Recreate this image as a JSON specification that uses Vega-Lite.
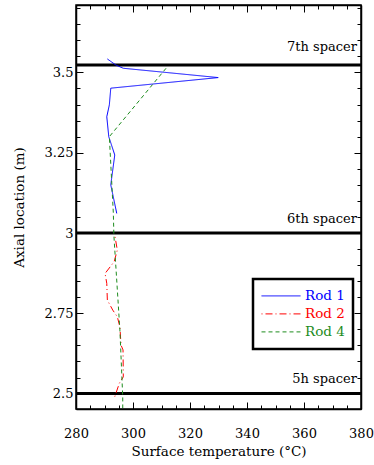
{
  "$schema": "https://vega.github.io/schema/vega-lite/v6.json",
  "width": 285,
  "height": 404,
  "autosize": "none",
  "padding": {"left": 76, "top": 5, "right": 13, "bottom": 56},
  "config": {
    "font": "DejaVu Serif",
    "view": {"stroke": "black", "strokeWidth": 1.5},
    "axis": {
      "domainColor": "black", "domainWidth": 1.5, "tickColor": "black", "tickWidth": 1,
      "labelColor": "black", "titleColor": "black", "grid": false,
      "labelFont": "DejaVu Serif", "titleFont": "DejaVu Serif",
      "labelFontSize": 13, "titleFontSize": 13.5, "titleFontWeight": "normal",
      "labelFlush": false, "labelOverlap": false
    }
  },
  "datasets": {
    "lines": [
      {"rod": "Rod 1", "i": 1, "t": 291.0, "z": 3.542},
      {"rod": "Rod 1", "i": 2, "t": 294.0, "z": 3.523},
      {"rod": "Rod 1", "i": 3, "t": 296.6, "z": 3.513},
      {"rod": "Rod 1", "i": 4, "t": 329.9, "z": 3.484},
      {"rod": "Rod 1", "i": 5, "t": 292.2, "z": 3.451},
      {"rod": "Rod 1", "i": 6, "t": 291.7, "z": 3.399},
      {"rod": "Rod 1", "i": 7, "t": 290.8, "z": 3.362},
      {"rod": "Rod 1", "i": 8, "t": 291.5, "z": 3.300},
      {"rod": "Rod 1", "i": 9, "t": 293.6, "z": 3.243},
      {"rod": "Rod 1", "i": 10, "t": 292.2, "z": 3.150},
      {"rod": "Rod 1", "i": 11, "t": 294.3, "z": 3.061},
      {"rod": "Rod 2", "i": 1, "t": 293.7, "z": 2.988},
      {"rod": "Rod 2", "i": 2, "t": 294.5, "z": 2.947},
      {"rod": "Rod 2", "i": 3, "t": 293.4, "z": 2.911},
      {"rod": "Rod 2", "i": 4, "t": 290.2, "z": 2.874},
      {"rod": "Rod 2", "i": 5, "t": 290.8, "z": 2.843},
      {"rod": "Rod 2", "i": 6, "t": 291.0, "z": 2.791},
      {"rod": "Rod 2", "i": 7, "t": 292.9, "z": 2.760},
      {"rod": "Rod 2", "i": 8, "t": 294.5, "z": 2.739},
      {"rod": "Rod 2", "i": 9, "t": 295.4, "z": 2.708},
      {"rod": "Rod 2", "i": 10, "t": 295.8, "z": 2.651},
      {"rod": "Rod 2", "i": 11, "t": 296.5, "z": 2.636},
      {"rod": "Rod 2", "i": 12, "t": 296.6, "z": 2.552},
      {"rod": "Rod 2", "i": 13, "t": 295.2, "z": 2.532},
      {"rod": "Rod 2", "i": 14, "t": 293.4, "z": 2.485},
      {"rod": "Rod 4", "i": 1, "t": 311.6, "z": 3.513},
      {"rod": "Rod 4", "i": 2, "t": 291.7, "z": 3.300},
      {"rod": "Rod 4", "i": 3, "t": 293.1, "z": 3.062},
      {"rod": "Rod 4", "i": 4, "t": 293.3, "z": 2.991},
      {"rod": "Rod 4", "i": 5, "t": 295.4, "z": 2.698},
      {"rod": "Rod 4", "i": 6, "t": 296.4, "z": 2.490},
      {"rod": "Rod 4", "i": 7, "t": 296.4, "z": 2.455}
    ],
    "spacers": [{"z": 3.523}, {"z": 3.0}, {"z": 2.5}],
    "labels": [
      {"name": "7th spacer", "t": 378.6, "z": 3.579},
      {"name": "6th spacer", "t": 378.6, "z": 3.045},
      {"name": "5h spacer", "t": 378.6, "z": 2.544}
    ]
  },
  "layer": [
    {
      "data": {"name": "spacers"},
      "mark": {"type": "rule", "strokeWidth": 3, "color": "black"},
      "encoding": {
        "y": {"field": "z", "type": "quantitative", "scale": {"domain": [2.452, 3.71], "nice": false, "zero": false}, "axis": null}
      }
    },
    {
      "data": {"name": "labels"},
      "mark": {"type": "text", "align": "right", "baseline": "middle", "fontSize": 13, "font": "DejaVu Serif", "color": "black"},
      "encoding": {
        "x": {"field": "t", "type": "quantitative", "scale": {"domain": [280, 380], "nice": false, "zero": false}, "axis": null},
        "y": {"field": "z", "type": "quantitative", "axis": null},
        "text": {"field": "name"}
      }
    },
    {
      "data": {"name": "lines"},
      "mark": {"type": "line", "strokeWidth": 1},
      "encoding": {
        "x": {
          "field": "t", "type": "quantitative",
          "axis": {
            "orient": "bottom",
            "values": [280,285,290,295,300,305,310,315,320,325,330,335,340,345,350,355,360,365,370,375,380],
            "labelExpr": "datum.value % 20 == 0 ? '' + datum.value : ''",
            "tickSize": {"condition": {"test": "datum.value % 20 == 0", "value": -7}, "value": -4},
            "labelPadding": 25,
            "title": "Surface temperature (°C)",
            "titlePadding": 1
          }
        },
        "y": {
          "field": "z", "type": "quantitative",
          "axis": {
            "orient": "left",
            "values": [2.5,2.55,2.6,2.65,2.7,2.75,2.8,2.85,2.9,2.95,3,3.05,3.1,3.15,3.2,3.25,3.3,3.35,3.4,3.45,3.5,3.55,3.6,3.65,3.7],
            "labelExpr": "abs(datum.value*4 - round(datum.value*4)) < 0.001 ? '' + datum.value : ''",
            "tickSize": {"condition": {"test": "abs(datum.value*4 - round(datum.value*4)) < 0.001", "value": -7}, "value": -4},
            "labelPadding": 10,
            "title": "Axial location (m)",
            "titlePadding": 18
          }
        },
        "color": {
          "field": "rod", "type": "nominal",
          "scale": {"domain": ["Rod 1", "Rod 2", "Rod 4"], "range": ["#0000ff", "#ff0000", "#1e8c1e"]},
          "legend": {
            "title": null, "orient": "none", "legendX": 177, "legendY": 274,
            "symbolType": "stroke", "symbolSize": 1521, "symbolStrokeWidth": 1,
            "clipHeight": 17.8, "rowPadding": 0,
            "labelFontSize": 13.5, "labelFont": "DejaVu Serif", "labelOffset": 4,
            "padding": 8, "strokeColor": "black",
            "encode": {
              "labels": {"update": {"fill": {"signal": "scale('color', datum.value)"}}},
              "legend": {"update": {"strokeWidth": {"value": 2.5}}}
            }
          }
        },
        "strokeDash": {
          "field": "rod", "type": "nominal",
          "scale": {"domain": ["Rod 1", "Rod 2", "Rod 4"], "range": [[1, 0], [1, 3, 7, 3], [4, 3]]},
          "legend": {"title": null}
        },
        "order": {"field": "i", "type": "quantitative"}
      }
    },
    {
      "data": {"name": "lines"},
      "mark": {"type": "point", "opacity": 0},
      "encoding": {
        "x": {
          "field": "t", "type": "quantitative",
          "axis": {
            "orient": "top", "labels": false, "title": null,
            "values": [280,285,290,295,300,305,310,315,320,325,330,335,340,345,350,355,360,365,370,375,380],
            "tickSize": {"condition": {"test": "datum.value % 20 == 0", "value": -7}, "value": -4}
          }
        },
        "y": {
          "field": "z", "type": "quantitative",
          "axis": {
            "orient": "right", "labels": false, "title": null,
            "values": [2.5,2.55,2.6,2.65,2.7,2.75,2.8,2.85,2.9,2.95,3,3.05,3.1,3.15,3.2,3.25,3.3,3.35,3.4,3.45,3.5,3.55,3.6,3.65,3.7],
            "tickSize": {"condition": {"test": "abs(datum.value*4 - round(datum.value*4)) < 0.001", "value": -7}, "value": -4}
          }
        }
      }
    }
  ],
  "resolve": {"axis": {"x": "independent", "y": "independent"}}
}
